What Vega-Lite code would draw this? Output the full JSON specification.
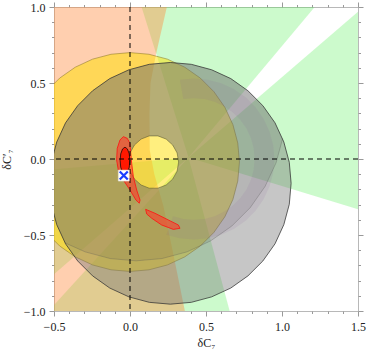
{
  "$schema": "https://vega.github.io/schema/vega-lite/v6.json",
  "width": 304,
  "height": 304,
  "autosize": "none",
  "padding": {"left": 54, "top": 7, "right": 10, "bottom": 43},
  "background": "white",
  "config": {"view": {"stroke": "#b8b8b8", "strokeWidth": 1}},
  "resolve": {"axis": {"x": "independent", "y": "independent"}},
  "datasets": {
    "orange": [
      {"i":0,"x":-0.52,"y":1.02},{"i":1,"x":0.247,"y":1.02},{"i":2,"x":0.171,"y":0.689},{"i":3,"x":0.135,"y":0.5},{"i":4,"x":0.128,"y":0.3},{"i":5,"x":0.13,"y":0.06},{"i":6,"x":0.16,"y":-0.1},{"i":7,"x":0.22,"y":-0.31},{"i":8,"x":0.29,"y":-0.65},{"i":9,"x":0.365,"y":-1.02},{"i":10,"x":-0.52,"y":-1.02}
    ],
    "green": [
      {"p":1,"i":0,"x":0.385,"y":0.01},{"p":1,"i":1,"x":1.52,"y":-0.337},{"p":1,"i":2,"x":1.52,"y":0.986},
      {"p":2,"i":0,"x":0.385,"y":0.01},{"p":2,"i":1,"x":1.232,"y":1.02},{"p":2,"i":2,"x":0.07,"y":1.02},
      {"p":3,"i":0,"x":0.385,"y":0.01},{"p":3,"i":1,"x":-0.52,"y":-0.069},{"p":3,"i":2,"x":-0.52,"y":-0.776},
      {"p":4,"i":0,"x":0.385,"y":0.01},{"p":4,"i":1,"x":-0.52,"y":-0.982},{"p":4,"i":2,"x":-0.52,"y":-1.02},{"p":4,"i":3,"x":0.661,"y":-1.02}
    ],
    "yellow": [
      {"i":0,"x":0.72,"y":-0.02},{"i":1,"x":0.709,"y":0.105},{"i":2,"x":0.677,"y":0.226},{"i":3,"x":0.624,"y":0.34},{"i":4,"x":0.552,"y":0.443},{"i":5,"x":0.463,"y":0.532},{"i":6,"x":0.36,"y":0.604},{"i":7,"x":0.246,"y":0.657},{"i":8,"x":0.125,"y":0.689},{"i":9,"x":0.0,"y":0.7},{"i":10,"x":-0.125,"y":0.689},{"i":11,"x":-0.246,"y":0.657},{"i":12,"x":-0.36,"y":0.604},{"i":13,"x":-0.463,"y":0.532},{"i":14,"x":-0.552,"y":0.443},{"i":15,"x":-0.624,"y":0.34},{"i":16,"x":-0.677,"y":0.226},{"i":17,"x":-0.709,"y":0.105},{"i":18,"x":-0.72,"y":-0.02},{"i":19,"x":-0.709,"y":-0.145},{"i":20,"x":-0.677,"y":-0.266},{"i":21,"x":-0.624,"y":-0.38},{"i":22,"x":-0.552,"y":-0.483},{"i":23,"x":-0.463,"y":-0.572},{"i":24,"x":-0.36,"y":-0.644},{"i":25,"x":-0.246,"y":-0.697},{"i":26,"x":-0.125,"y":-0.729},{"i":27,"x":0.0,"y":-0.74},{"i":28,"x":0.125,"y":-0.729},{"i":29,"x":0.246,"y":-0.697},{"i":30,"x":0.36,"y":-0.644},{"i":31,"x":0.463,"y":-0.572},{"i":32,"x":0.552,"y":-0.483},{"i":33,"x":0.624,"y":-0.38},{"i":34,"x":0.677,"y":-0.266},{"i":35,"x":0.709,"y":-0.145}
    ],
    "gray1": [
      {"i":0,"x":1.06,"y":-0.16},{"i":1,"x":1.048,"y":-0.022},{"i":2,"x":1.012,"y":0.112},{"i":3,"x":0.954,"y":0.238},{"i":4,"x":0.874,"y":0.351},{"i":5,"x":0.776,"y":0.449},{"i":6,"x":0.663,"y":0.529},{"i":7,"x":0.537,"y":0.587},{"i":8,"x":0.403,"y":0.623},{"i":9,"x":0.265,"y":0.635},{"i":10,"x":0.127,"y":0.623},{"i":11,"x":-0.007,"y":0.587},{"i":12,"x":-0.133,"y":0.529},{"i":13,"x":-0.246,"y":0.449},{"i":14,"x":-0.344,"y":0.351},{"i":15,"x":-0.424,"y":0.238},{"i":16,"x":-0.482,"y":0.112},{"i":17,"x":-0.518,"y":-0.022},{"i":18,"x":-0.53,"y":-0.16},{"i":19,"x":-0.518,"y":-0.298},{"i":20,"x":-0.482,"y":-0.432},{"i":21,"x":-0.424,"y":-0.558},{"i":22,"x":-0.344,"y":-0.671},{"i":23,"x":-0.246,"y":-0.769},{"i":24,"x":-0.133,"y":-0.849},{"i":25,"x":-0.007,"y":-0.907},{"i":26,"x":0.127,"y":-0.943},{"i":27,"x":0.265,"y":-0.955},{"i":28,"x":0.403,"y":-0.943},{"i":29,"x":0.537,"y":-0.907},{"i":30,"x":0.663,"y":-0.849},{"i":31,"x":0.776,"y":-0.769},{"i":32,"x":0.874,"y":-0.671},{"i":33,"x":0.954,"y":-0.558},{"i":34,"x":1.012,"y":-0.432},{"i":35,"x":1.048,"y":-0.298},{"i":36,"x":1.06,"y":-0.16},
      {"i":37,"x":0.32,"y":-0.02},{"i":38,"x":0.31,"y":-0.08},{"i":39,"x":0.281,"y":-0.132},{"i":40,"x":0.238,"y":-0.171},{"i":41,"x":0.184,"y":-0.192},{"i":42,"x":0.126,"y":-0.192},{"i":43,"x":0.073,"y":-0.171},{"i":44,"x":0.029,"y":-0.132},{"i":45,"x":0.0,"y":-0.08},{"i":46,"x":-0.01,"y":-0.02},{"i":47,"x":0.0,"y":0.04},{"i":48,"x":0.029,"y":0.092},{"i":49,"x":0.073,"y":0.131},{"i":50,"x":0.126,"y":0.152},{"i":51,"x":0.184,"y":0.152},{"i":52,"x":0.238,"y":0.131},{"i":53,"x":0.281,"y":0.092},{"i":54,"x":0.31,"y":0.04},{"i":55,"x":0.32,"y":-0.02}
    ],
    "gray2": [
      {"i":0,"x":-0.427,"y":-0.552},{"i":1,"x":-0.482,"y":-0.432},{"i":2,"x":-0.518,"y":-0.298},{"i":3,"x":-0.53,"y":-0.16},{"i":4,"x":-0.518,"y":-0.022},{"i":5,"x":-0.482,"y":0.112},{"i":6,"x":-0.424,"y":0.238},{"i":7,"x":-0.344,"y":0.351},{"i":8,"x":-0.246,"y":0.449},{"i":9,"x":-0.133,"y":0.529},{"i":10,"x":-0.007,"y":0.587},{"i":11,"x":0.127,"y":0.623},{"i":12,"x":0.265,"y":0.635},{"i":13,"x":0.403,"y":0.623},{"i":14,"x":0.537,"y":0.587},{"i":15,"x":0.663,"y":0.529},{"i":16,"x":0.776,"y":0.449},{"i":17,"x":0.874,"y":0.351},{"i":18,"x":0.954,"y":0.238},{"i":19,"x":1.004,"y":0.134},{"i":20,"x":0.961,"y":-0.025},{"i":21,"x":0.889,"y":-0.18},{"i":22,"x":0.791,"y":-0.32},{"i":23,"x":0.67,"y":-0.441},{"i":24,"x":0.53,"y":-0.539},{"i":25,"x":0.375,"y":-0.611},{"i":26,"x":0.21,"y":-0.655},{"i":27,"x":0.04,"y":-0.67},{"i":28,"x":-0.13,"y":-0.655},{"i":29,"x":-0.295,"y":-0.611},{"i":30,"x":-0.427,"y":-0.552},
      {"i":31,"x":0.32,"y":-0.02},{"i":32,"x":0.31,"y":0.04},{"i":33,"x":0.281,"y":0.092},{"i":34,"x":0.238,"y":0.131},{"i":35,"x":0.184,"y":0.152},{"i":36,"x":0.126,"y":0.152},{"i":37,"x":0.073,"y":0.131},{"i":38,"x":0.029,"y":0.092},{"i":39,"x":0.0,"y":0.04},{"i":40,"x":-0.01,"y":-0.02},{"i":41,"x":0.0,"y":-0.08},{"i":42,"x":0.029,"y":-0.132},{"i":43,"x":0.073,"y":-0.171},{"i":44,"x":0.126,"y":-0.192},{"i":45,"x":0.184,"y":-0.192},{"i":46,"x":0.238,"y":-0.171},{"i":47,"x":0.281,"y":-0.132},{"i":48,"x":0.31,"y":-0.08},{"i":49,"x":0.32,"y":-0.02}
    ],
    "ring": [
      {"i":0,"x":0.239,"y":-0.498},{"i":1,"x":0.328,"y":-0.522},{"i":2,"x":0.42,"y":-0.53},{"i":3,"x":0.512,"y":-0.522},{"i":4,"x":0.601,"y":-0.498},{"i":5,"x":0.685,"y":-0.459},{"i":6,"x":0.761,"y":-0.406},{"i":7,"x":0.826,"y":-0.341},{"i":8,"x":0.879,"y":-0.265},{"i":9,"x":0.918,"y":-0.181},{"i":10,"x":0.942,"y":-0.092},{"i":11,"x":0.95,"y":0.0},{"i":12,"x":0.942,"y":0.092},{"i":13,"x":0.918,"y":0.181},{"i":14,"x":0.879,"y":0.265},{"i":15,"x":0.826,"y":0.341},{"i":16,"x":0.761,"y":0.406},{"i":17,"x":0.685,"y":0.459},{"i":18,"x":0.601,"y":0.498},{"i":19,"x":0.512,"y":0.522},{"i":20,"x":0.42,"y":0.53},{"i":21,"x":0.328,"y":0.522},
      {"i":22,"x":0.351,"y":0.394},{"i":23,"x":0.42,"y":0.4},{"i":24,"x":0.49,"y":0.394},{"i":25,"x":0.557,"y":0.376},{"i":26,"x":0.62,"y":0.346},{"i":27,"x":0.677,"y":0.306},{"i":28,"x":0.726,"y":0.257},{"i":29,"x":0.766,"y":0.2},{"i":30,"x":0.796,"y":0.137},{"i":31,"x":0.814,"y":0.069},{"i":32,"x":0.82,"y":0.0},{"i":33,"x":0.814,"y":-0.069},{"i":34,"x":0.796,"y":-0.137},{"i":35,"x":0.766,"y":-0.2},{"i":36,"x":0.726,"y":-0.257},{"i":37,"x":0.677,"y":-0.306},{"i":38,"x":0.62,"y":-0.346},{"i":39,"x":0.557,"y":-0.376},{"i":40,"x":0.49,"y":-0.394},{"i":41,"x":0.42,"y":-0.4},{"i":42,"x":0.351,"y":-0.394},{"i":43,"x":0.283,"y":-0.376}
    ],
    "red": [
      {"p":1,"i":0,"x":-0.044,"y":0.147},{"p":1,"i":1,"x":-0.018,"y":0.136},{"p":1,"i":2,"x":0.0,"y":0.103},{"p":1,"i":3,"x":0.005,"y":0.038},{"p":1,"i":4,"x":0.011,"y":-0.028},{"p":1,"i":5,"x":0.022,"y":-0.116},{"p":1,"i":6,"x":0.044,"y":-0.204},{"p":1,"i":7,"x":0.066,"y":-0.27},{"p":1,"i":8,"x":0.061,"y":-0.291},{"p":1,"i":9,"x":0.039,"y":-0.27},{"p":1,"i":10,"x":0.0,"y":-0.204},{"p":1,"i":11,"x":-0.044,"y":-0.138},{"p":1,"i":12,"x":-0.077,"y":-0.072},{"p":1,"i":13,"x":-0.088,"y":-0.007},{"p":1,"i":14,"x":-0.084,"y":0.07},{"p":1,"i":15,"x":-0.066,"y":0.125},
      {"p":2,"i":0,"x":0.103,"y":-0.331},{"p":2,"i":1,"x":0.164,"y":-0.357},{"p":2,"i":2,"x":0.252,"y":-0.401},{"p":2,"i":3,"x":0.318,"y":-0.434},{"p":2,"i":4,"x":0.329,"y":-0.456},{"p":2,"i":5,"x":0.285,"y":-0.463},{"p":2,"i":6,"x":0.208,"y":-0.434},{"p":2,"i":7,"x":0.143,"y":-0.39},{"p":2,"i":8,"x":0.11,"y":-0.362}
    ],
    "redin": [
      {"i":0,"x":-0.001,"y":-0.01},{"i":1,"x":-0.005,"y":0.034},{"i":2,"x":-0.017,"y":0.066},{"i":3,"x":-0.033,"y":0.078},{"i":4,"x":-0.049,"y":0.066},{"i":5,"x":-0.061,"y":0.034},{"i":6,"x":-0.065,"y":-0.01},{"i":7,"x":-0.061,"y":-0.054},{"i":8,"x":-0.049,"y":-0.086},{"i":9,"x":-0.033,"y":-0.098},{"i":10,"x":-0.017,"y":-0.086},{"i":11,"x":-0.005,"y":-0.054}
    ],
    "marker": [{"x":-0.041,"y":-0.109}]
  },
  "layer": [
    {
      "data": {"name": "green"},
      "mark": {"type": "line", "interpolate": "linear-closed", "fill": "#55EE55", "fillOpacity": 0.3, "strokeWidth": 0, "clip": true},
      "encoding": {
        "x": {"field": "x", "type": "quantitative", "scale": {"domain": [-0.5, 1.5], "nice": false, "zero": false},
          "axis": {"orient": "bottom", "values": [-0.5,-0.4,-0.3,-0.2,-0.1,0,0.1,0.2,0.3,0.4,0.5,0.6,0.7,0.8,0.9,1,1.1,1.2,1.3,1.4,1.5],
            "labelExpr": "abs(datum.value*2 - round(datum.value*2)) < 0.01 ? replace(format(datum.value, '.1f'), '-', '−') : ''",
            "tickSize": {"condition": {"test": "abs(datum.value*2 - round(datum.value*2)) < 0.01", "value": 5}, "value": 2.5},
            "tickColor": "#999", "domain": false, "grid": false, "labelFont": "Liberation Serif", "labelFontSize": 12, "labelColor": "#222", "labelPadding": 5, "labelFlush": false, "labelOverlap": false,
            "title": "δC₇", "titleFont": "Liberation Serif", "titleFontSize": 12, "titleFontWeight": "normal", "titleColor": "#222", "titlePadding": 5}},
        "y": {"field": "y", "type": "quantitative", "scale": {"domain": [-1, 1], "nice": false, "zero": false},
          "axis": {"orient": "left", "values": [-1,-0.9,-0.8,-0.7,-0.6,-0.5,-0.4,-0.3,-0.2,-0.1,0,0.1,0.2,0.3,0.4,0.5,0.6,0.7,0.8,0.9,1],
            "labelExpr": "abs(datum.value*2 - round(datum.value*2)) < 0.01 ? replace(format(datum.value, '.1f'), '-', '−') : ''",
            "tickSize": {"condition": {"test": "abs(datum.value*2 - round(datum.value*2)) < 0.01", "value": 5}, "value": 2.5},
            "tickColor": "#999", "domain": false, "grid": false, "labelFont": "Liberation Serif", "labelFontSize": 12, "labelColor": "#222", "labelPadding": 4, "labelFlush": false, "labelOverlap": false,
            "title": "δC′₇", "titleFont": "Liberation Serif", "titleFontSize": 12, "titleFontWeight": "normal", "titleColor": "#222", "titlePadding": 10}},
        "detail": {"field": "p"},
        "order": {"field": "i", "type": "quantitative"}
      }
    },
    {
      "data": {"name": "orange"},
      "mark": {"type": "line", "interpolate": "linear-closed", "fill": "#FF8C40", "fillOpacity": 0.42, "strokeWidth": 0, "clip": true},
      "encoding": {
        "x": {"field": "x", "type": "quantitative",
          "axis": {"orient": "top", "values": [-0.5,-0.4,-0.3,-0.2,-0.1,0,0.1,0.2,0.3,0.4,0.5,0.6,0.7,0.8,0.9,1,1.1,1.2,1.3,1.4,1.5], "labels": false,
            "tickSize": {"condition": {"test": "abs(datum.value*2 - round(datum.value*2)) < 0.01", "value": 5}, "value": 2.5},
            "tickColor": "#999", "domain": false, "grid": false, "title": null}},
        "y": {"field": "y", "type": "quantitative",
          "axis": {"orient": "right", "values": [-1,-0.9,-0.8,-0.7,-0.6,-0.5,-0.4,-0.3,-0.2,-0.1,0,0.1,0.2,0.3,0.4,0.5,0.6,0.7,0.8,0.9,1], "labels": false,
            "tickSize": {"condition": {"test": "abs(datum.value*2 - round(datum.value*2)) < 0.01", "value": 5}, "value": 2.5},
            "tickColor": "#999", "domain": false, "grid": false, "title": null}},
        "order": {"field": "i", "type": "quantitative"}
      }
    },
    {
      "data": {"name": "yellow"},
      "mark": {"type": "line", "interpolate": "linear-closed", "fill": "#FFE000", "fillOpacity": 0.5, "stroke": "#8C7A2A", "strokeWidth": 0.7, "strokeOpacity": 0.8, "clip": true},
      "encoding": {
        "x": {"field": "x", "type": "quantitative", "axis": null},
        "y": {"field": "y", "type": "quantitative", "axis": null},
        "order": {"field": "i", "type": "quantitative"}
      }
    },
    {
      "data": {"name": "gray1"},
      "mark": {"type": "line", "interpolate": "linear-closed", "fill": "#787878", "fillOpacity": 0.42, "strokeWidth": 0, "clip": true},
      "encoding": {
        "x": {"field": "x", "type": "quantitative", "axis": null},
        "y": {"field": "y", "type": "quantitative", "axis": null},
        "order": {"field": "i", "type": "quantitative"}
      }
    },
    {
      "data": {"name": "gray2"},
      "mark": {"type": "line", "interpolate": "linear-closed", "fill": "#504a50", "fillOpacity": 0.13, "strokeWidth": 0, "clip": true},
      "encoding": {
        "x": {"field": "x", "type": "quantitative", "axis": null},
        "y": {"field": "y", "type": "quantitative", "axis": null},
        "order": {"field": "i", "type": "quantitative"}
      }
    },
    {
      "data": {"name": "ring"},
      "mark": {"type": "line", "interpolate": "linear-closed", "fill": "#8A5A9A", "fillOpacity": 0.11, "strokeWidth": 0, "clip": true},
      "encoding": {
        "x": {"field": "x", "type": "quantitative", "axis": null},
        "y": {"field": "y", "type": "quantitative", "axis": null},
        "order": {"field": "i", "type": "quantitative"}
      }
    },
    {
      "data": {"name": "gray2"},
      "transform": [{"filter": "datum.i >= 19 && datum.i <= 30"}],
      "mark": {"type": "line", "stroke": "#555", "strokeWidth": 0.6, "strokeOpacity": 0.5, "clip": true},
      "encoding": {
        "x": {"field": "x", "type": "quantitative", "axis": null},
        "y": {"field": "y", "type": "quantitative", "axis": null},
        "order": {"field": "i", "type": "quantitative"}
      }
    },
    {
      "data": {"name": "gray1"},
      "transform": [{"filter": "datum.i <= 35"}],
      "mark": {"type": "line", "interpolate": "linear-closed", "stroke": "#333", "strokeWidth": 0.9, "strokeOpacity": 0.85, "clip": true},
      "encoding": {
        "x": {"field": "x", "type": "quantitative", "axis": null},
        "y": {"field": "y", "type": "quantitative", "axis": null},
        "order": {"field": "i", "type": "quantitative"}
      }
    },
    {
      "data": {"name": "gray1"},
      "transform": [{"filter": "datum.i >= 37"}],
      "mark": {"type": "line", "interpolate": "linear-closed", "stroke": "#5a5a30", "strokeWidth": 0.7, "strokeOpacity": 0.8, "clip": true},
      "encoding": {
        "x": {"field": "x", "type": "quantitative", "axis": null},
        "y": {"field": "y", "type": "quantitative", "axis": null},
        "order": {"field": "i", "type": "quantitative"}
      }
    },
    {
      "data": {"name": "red"},
      "mark": {"type": "line", "interpolate": "linear-closed", "fill": "#FF3A2A", "fillOpacity": 0.6, "stroke": "#FF1010", "strokeWidth": 0.8, "clip": true},
      "encoding": {
        "x": {"field": "x", "type": "quantitative", "axis": null},
        "y": {"field": "y", "type": "quantitative", "axis": null},
        "detail": {"field": "p"},
        "order": {"field": "i", "type": "quantitative"}
      }
    },
    {
      "data": {"name": "redin"},
      "mark": {"type": "line", "interpolate": "linear-closed", "fill": "#FF1800", "fillOpacity": 1, "stroke": "#000", "strokeWidth": 0.7, "clip": true},
      "encoding": {
        "x": {"field": "x", "type": "quantitative", "axis": null},
        "y": {"field": "y", "type": "quantitative", "axis": null},
        "order": {"field": "i", "type": "quantitative"}
      }
    },
    {
      "data": {"values": [{"v": 0}]},
      "mark": {"type": "rule", "stroke": "#000", "strokeWidth": 1, "strokeDash": [5, 4]},
      "encoding": {"x": {"field": "v", "type": "quantitative", "axis": null}}
    },
    {
      "data": {"values": [{"v": 0}]},
      "mark": {"type": "rule", "stroke": "#000", "strokeWidth": 1, "strokeDash": [5, 4]},
      "encoding": {"y": {"field": "v", "type": "quantitative", "axis": null}}
    },
    {
      "data": {"name": "marker"},
      "mark": {"type": "point", "shape": "square", "size": 121, "filled": true, "fill": "white", "opacity": 1, "stroke": "#ddd", "strokeWidth": 0.5},
      "encoding": {
        "x": {"field": "x", "type": "quantitative", "axis": null},
        "y": {"field": "y", "type": "quantitative", "axis": null}
      }
    },
    {
      "data": {"name": "marker"},
      "mark": {"type": "point", "shape": "M-1,-1L1,1M-1,1L1,-1", "size": 64, "filled": false, "stroke": "#1a3cff", "strokeWidth": 2.2, "opacity": 1},
      "encoding": {
        "x": {"field": "x", "type": "quantitative", "axis": null},
        "y": {"field": "y", "type": "quantitative", "axis": null}
      }
    }
  ]
}
